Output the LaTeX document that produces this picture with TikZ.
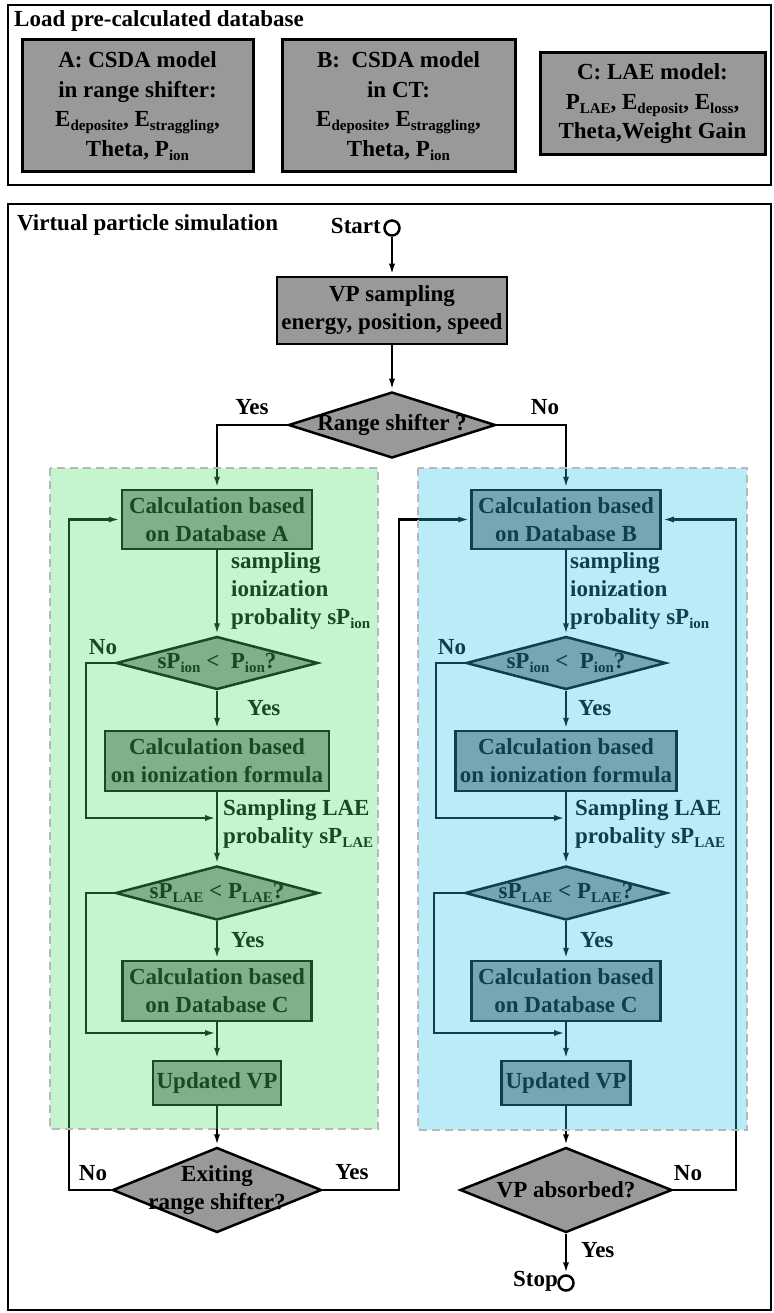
\documentclass[tikz,border=0pt]{standalone}
\usepackage{fontspec}
\setmainfont{Liberation Serif}
\usetikzlibrary{arrows.meta, shapes.geometric}

\definecolor{boxgray}{gray}{0.6}
\definecolor{greenveil}{rgb}{0.30,0.88,0.42}
\definecolor{blueveil}{rgb}{0.17,0.77,0.90}
\definecolor{regionedge}{gray}{0.72}

\newcommand{\subtxt}[1]{\raisebox{-0.35ex}{\fontsize{15}{15}\selectfont #1}}

\tikzset{
  base/.style={font=\fontsize{23}{28}\selectfont\bfseries, align=center, inner sep=0pt},
  dbbox/.style={base, font=\fontsize{23}{29.5}\selectfont\bfseries, rectangle, draw,
    line width=3pt, fill=boxgray},
  procbox/.style={base, rectangle, draw, line width=2.5pt, fill=boxgray},
  decision/.style={diamond, draw, line width=2.5pt, fill=boxgray, inner sep=0pt},
  terminal/.style={circle, draw, line width=2.5pt, fill=white, minimum size=15pt, inner sep=0pt},
  flow/.style={line width=2.4pt, -{Latex[length=12pt,width=6pt]}},
  veil/.style={fill opacity=0.33},
  regionline/.style={regionedge, line width=2.5pt, dash pattern=on 8pt off 5pt},
}

\begin{document}
\begin{tikzpicture}[x=1pt, y=-1pt]

\useasboundingbox (0,0) rectangle (773,1313);

%% ============================================================
%% Top frame: databases
%% ============================================================
\draw[line width=2.8pt] (8,5) rectangle (771,185);
\node[base, anchor=west] (loadtitle) at (14,21) {Load pre-calculated database};

\node[dbbox, minimum width=231pt, minimum height=132pt] (dbA) at (137.5,106)
  {A: CSDA model\\in range shifter:\\E\subtxt{deposite}, E\subtxt{straggling},\\Theta, P\subtxt{ion}};
\node[dbbox, minimum width=233pt, minimum height=132pt] (dbB) at (398.5,106)
  {B:\ \ CSDA model\\in CT:\\E\subtxt{deposite}, E\subtxt{straggling},\\Theta, P\subtxt{ion}};
\node[dbbox, minimum width=225pt, minimum height=102pt] (dbC) at (652.5,104)
  {C: LAE model:\\P\subtxt{LAE}, E\subtxt{deposit}, E\subtxt{loss},\\Theta,Weight Gain};

%% ============================================================
%% Bottom frame: virtual particle simulation
%% ============================================================
\draw[line width=2.8pt] (8,204) rectangle (771,1310);
\node[base, anchor=west] (simtitle) at (17,225) {Virtual particle simulation};

\node[terminal] (start) at (392,228) {};
\node[base, anchor=east] (starttxt) at (381,226) {Start};

\node[procbox, minimum width=230pt, minimum height=67pt] (vp) at (392,310.5)
  {VP sampling\\energy, position, speed};

\node[decision, minimum width=207pt, minimum height=66pt,
  label={[base]center:Range shifter ?}] (rs) at (392,425) {};

%% ---- left column (range shifter) ----
\def\xA{217}
\node[procbox, minimum width=190pt, minimum height=59pt] (calcA) at (\xA,519.5)
  {Calculation based\\on Database A};
\node[decision, minimum width=202pt, minimum height=53pt,
  label={[base]center:sP\subtxt{ion} <\ \ P\subtxt{ion}?}] (ionA) at (\xA,663) {};
\node[procbox, minimum width=224pt, minimum height=60pt] (formA) at (\xA,761)
  {Calculation based\\on ionization formula};
\node[decision, minimum width=203pt, minimum height=54pt,
  label={[base]center:sP\subtxt{LAE} <\ P\subtxt{LAE}?}] (laeA) at (\xA,893) {};
\node[procbox, minimum width=189pt, minimum height=60pt] (dbcA) at (\xA,991)
  {Calculation based\\on Database C};
\node[procbox, minimum width=128pt, minimum height=44pt] (updA) at (\xA,1083)
  {Updated VP};
\node[decision, minimum width=209pt, minimum height=85pt,
  label={[base]center:Exiting\\range shifter?}] (exitrs) at (\xA,1190) {};

\coordinate (joinionA) at (\xA,818);
\coordinate (joinlaeA) at (\xA,1033);

%% ---- right column (CT) ----
\def\xB{566}
\node[procbox, minimum width=189pt, minimum height=59pt] (calcB) at (\xB,519.5)
  {Calculation based\\on Database B};
\node[decision, minimum width=200pt, minimum height=53pt,
  label={[base]center:sP\subtxt{ion} <\ \ P\subtxt{ion}?}] (ionB) at (\xB,663) {};
\node[procbox, minimum width=221pt, minimum height=60pt] (formB) at (\xB,761)
  {Calculation based\\on ionization formula};
\node[decision, minimum width=202pt, minimum height=54pt,
  label={[base]center:sP\subtxt{LAE} <\ P\subtxt{LAE}?}] (laeB) at (\xB,893) {};
\node[procbox, minimum width=189pt, minimum height=60pt] (dbcB) at (\xB,991)
  {Calculation based\\on Database C};
\node[procbox, minimum width=129pt, minimum height=44pt] (updB) at (\xB,1083)
  {Updated VP};
\node[decision, minimum width=212pt, minimum height=85pt,
  label={[base]center:VP absorbed?}] (absorbed) at (\xB,1190) {};
\node[terminal] (stop) at (\xB,1283) {};
\node[base, anchor=east] (stoptxt) at (\xB-8,1281) {Stop};

\coordinate (joinionB) at (\xB,818);
\coordinate (joinlaeB) at (\xB,1033);

%% ---- connectors ----
\draw[flow] (start) -- (vp);
\draw[flow] (vp) -- (rs);
\draw[flow] (rs.west) -| (calcA.north);
\draw[flow] (rs.east) -| (calcB.north);

% left column
\draw[flow] (calcA) -- (ionA);
\draw[flow] (ionA) -- (formA);
\draw[flow] (ionA.west) -- ++(-29,0) |- (joinionA);
\draw[flow] (formA) -- (laeA);
\draw[flow] (laeA) -- (dbcA);
\draw[flow] (laeA.west) -- ++(-28,0) |- (joinlaeA);
\draw[flow] (dbcA) -- (updA);
\draw[flow] (updA) -- (exitrs);
\draw[flow] (exitrs.west) -- ++(-42,0) |- (calcA.west);
\draw[flow] (exitrs.east) -- ++(76,0) |- (calcB.west);

% right column
\draw[flow] (calcB) -- (ionB);
\draw[flow] (ionB) -- (formB);
\draw[flow] (ionB.west) -- ++(-29,0) |- (joinionB);
\draw[flow] (formB) -- (laeB);
\draw[flow] (laeB) -- (dbcB);
\draw[flow] (laeB.west) -- ++(-30,0) |- (joinlaeB);
\draw[flow] (dbcB) -- (updB);
\draw[flow] (updB) -- (absorbed);
\draw[flow] (absorbed.east) -- ++(63,0) |- (calcB.east);
\draw[flow] (absorbed) -- (stop);

%% ---- branch labels ----
\node[base] (yesrs) at (252,407) {Yes};
\node[base] (nors) at (545,407) {No};

\node[base, align=left, anchor=west] (sampionA) at (231,591)
  {sampling\\ionization\\probality sP\subtxt{ion}};
\node[base] (noionA) at (103,647) {No};
\node[base, anchor=west] (yesionA) at (247,708) {Yes};
\node[base, align=left, anchor=west] (samplaeA) at (223,824)
  {Sampling LAE\\probality sP\subtxt{LAE}};
\node[base, anchor=west] (yeslaeA) at (231,940) {Yes};
\node[base] (noexit) at (93,1173) {No};
\node[base] (yesexit) at (352,1172) {Yes};

\node[base, align=left, anchor=west] (sampionB) at (570,591)
  {sampling\\ionization\\probality sP\subtxt{ion}};
\node[base] (noionB) at (452,647) {No};
\node[base, anchor=west] (yesionB) at (578,708) {Yes};
\node[base, align=left, anchor=west] (samplaeB) at (575,824)
  {Sampling LAE\\probality sP\subtxt{LAE}};
\node[base, anchor=west] (yeslaeB) at (580,940) {Yes};
\node[base] (noabs) at (688,1173) {No};
\node[base, anchor=west] (yesabs) at (581,1250) {Yes};

%% ---- tinted regions (drawn over the flow) ----
\fill[greenveil, veil] (50,468) rectangle (378,1129);
\draw[regionline] (50,468) rectangle (378,1129);
\fill[blueveil, veil] (418,468) rectangle (747,1130);
\draw[regionline] (418,468) rectangle (747,1130);

\end{tikzpicture}
\end{document}
